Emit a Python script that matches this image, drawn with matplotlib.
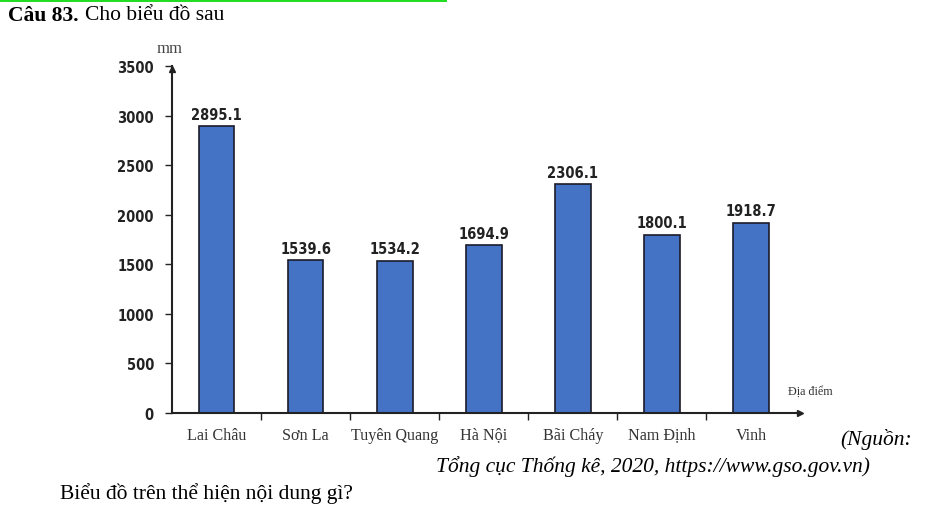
import matplotlib
matplotlib.use('Agg')
import matplotlib.pyplot as plt
import matplotlib.transforms as mtransforms
from matplotlib.patches import Rectangle

places = ['Lai Châu', 'Sơn La', 'Tuyên Quang', 'Hà Nội', 'Bãi Cháy', 'Nam Định', 'Vinh']
rain = [2895.1, 1539.6, 1534.2, 1694.9, 2306.1, 1800.1, 1918.7]
yticks = [0, 500, 1000, 1500, 2000, 2500, 3000, 3500]

W, H = 952, 506
fig = plt.figure(figsize=(W / 100, H / 100), dpi=100)
fig.patch.set_facecolor('white')

def px(x, y):
    return x / W, 1 - y / H

narrow = dict(family='DejaVu Sans', stretch='condensed', fontweight='bold', color='#222222')
serif = ['Liberation Serif', 'DejaVu Serif']

# green strip at the very top (cut-off line of the page)
fig.patches.append(Rectangle((0, 1 - 3 / H), 447 / W, 3 / H, transform=fig.transFigure,
                             facecolor='#22dd22', edgecolor='none'))

ax = fig.add_axes([172 / W, 1 - 414 / H, (800 - 172) / W, (414 - 67) / H])
xs = list(range(len(places)))
bars = ax.bar(xs, rain, width=0.40, color='#4472c4', edgecolor='#1b1b2a', linewidth=1.2)
for x, v in zip(xs, rain):
    ax.text(x, v + 45, f'{v:.1f}', ha='center', va='bottom', fontsize=10.5, **narrow)

ax.set_xlim(-0.5, 6.55)
ax.set_ylim(0, 3500)
ax.set_yticks(yticks)
ax.set_yticklabels([str(t) for t in yticks], fontsize=10.5, **narrow)
ax.set_xticks([])
# category names on a common baseline; agg draws dot-below letters a bit low, so nudge those up
dot_below = set('ạặậẹệịọộợụựỵẠẶẬẸỆỊỌỘỢỤỰỴ')
for x, name in zip(xs, places):
    tr = ax.get_xaxis_transform()
    if dot_below & set(name):
        tr = mtransforms.offset_copy(tr, fig=fig, y=1, units='dots')
    ax.text(x, -26 / 347, name, transform=tr, ha='center',
            va='baseline', family=serif, fontsize=11.6, color='#333333')
ax.set_xticks([x + 0.5 for x in xs[:-1]], minor=True)
ax.tick_params(axis='x', which='minor', length=5, direction='out', width=1, color='#222222')
ax.tick_params(axis='y', length=5, direction='out', width=1, color='#222222', pad=8)

for s in ['top', 'right']:
    ax.spines[s].set_visible(False)
for s in ['left', 'bottom']:
    ax.spines[s].set_linewidth(1.5)
    ax.spines[s].set_color('#222222')
ax.plot(1, 0, '>', color='#222222', markersize=5, transform=ax.transAxes, clip_on=False)
ax.plot(0, 0.99, '^', color='#222222', markersize=5, transform=ax.transAxes, clip_on=False)

fig.text(*px(157, 49), 'mm', family=serif, fontsize=12, color='#444444', va='center')
fig.text(*px(788, 392), 'Địa điểm', family=serif, fontsize=8.7, color='#333333', va='center')

fig.text(*px(8, 16), 'Câu 83.', family=serif, fontweight='bold', fontsize=15.5, va='center')
fig.text(*px(85, 16), 'Cho biểu đồ sau', family=serif, fontsize=15.5, va='center')
fig.text(*px(912, 440), '(Nguồn:', family=serif, style='italic', fontsize=15.5,
         va='center', ha='right')
fig.text(*px(870, 467), 'Tổng cục Thống kê, 2020, https://www.gso.gov.vn)', family=serif,
         style='italic', fontsize=15.5, va='center', ha='right')
fig.text(*px(60, 494), 'Biểu đồ trên thể hiện nội dung gì?', family=serif, fontsize=15.5,
         va='center')

fig.savefig('out.png', dpi=100)
